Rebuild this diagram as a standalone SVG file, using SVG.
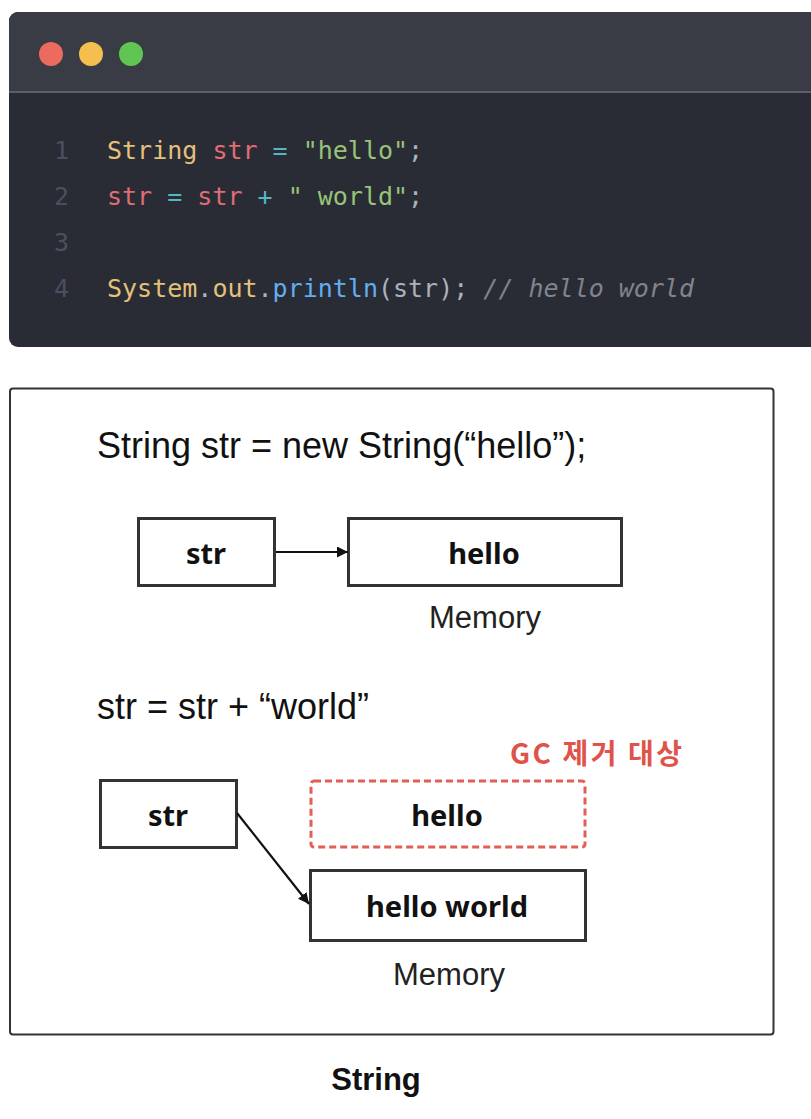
<svg xmlns="http://www.w3.org/2000/svg" width="811" height="1119" viewBox="0 0 811 1119">
<style>
.code{font-family:"DejaVu Sans Mono","Liberation Mono",monospace;font-size:25px}
.ln{fill:#4b5060}
.ty{fill:#e5c07b}
.vr{fill:#e06c75}
.op{fill:#56b6c2}
.st{fill:#98c379}
.pl{fill:#abb2bf}
.fn{fill:#61afef}
.cm{fill:#7f848e;font-style:italic}
.box{fill:#fff;stroke:#333;stroke-width:3}
.lbl{font-family:"Noto Sans","Liberation Sans",sans-serif;font-weight:bold;font-size:29px;fill:#111;text-anchor:middle}
.head{font-family:"Liberation Sans",Arial,sans-serif;font-size:36px;fill:#111}
.mem{font-family:"Liberation Sans",Arial,sans-serif;font-size:31px;fill:#222;text-anchor:middle}
.conn{stroke:#111;stroke-width:2.2;fill:none}
</style>
<defs>
<marker id="ah" viewBox="0 0 10 10" refX="10" refY="5" markerWidth="5" markerHeight="5" orient="auto" markerUnits="strokeWidth">
<path d="M0,0 L10,5 L0,10 z" fill="#111"/>
</marker>
</defs>
<rect width="811" height="1119" fill="#fff"/>
<g id="code-panel">
<rect x="9" y="12" width="830" height="335" rx="9" fill="#292c34"/>
<path d="M9,92 V21 a9,9 0 0 1 9,-9 H811 V92 z" fill="#393b45"/>
<rect x="9" y="91" width="802" height="2" fill="#5b5e68"/>
<circle cx="51" cy="54" r="12" fill="#ec6a5e"/>
<circle cx="91" cy="54" r="12" fill="#f4bf4f"/>
<circle cx="131" cy="54" r="12" fill="#61c554"/>
<text class="code ln" x="54" y="159">1</text>
<text class="code ln" x="54" y="205">2</text>
<text class="code ln" x="54" y="251">3</text>
<text class="code ln" x="54" y="297">4</text>
<text class="code" x="107" y="159" xml:space="preserve"><tspan class="ty">String</tspan> <tspan class="vr">str</tspan> <tspan class="op">=</tspan> <tspan class="st">"hello"</tspan><tspan class="pl">;</tspan></text>
<text class="code" x="107" y="205" xml:space="preserve"><tspan class="vr">str</tspan> <tspan class="op">=</tspan> <tspan class="vr">str</tspan> <tspan class="op">+</tspan> <tspan class="st">" world"</tspan><tspan class="pl">;</tspan></text>
<text class="code" x="107" y="297" xml:space="preserve"><tspan class="ty">System</tspan><tspan class="pl">.</tspan><tspan class="ty">out</tspan><tspan class="pl">.</tspan><tspan class="fn">println</tspan><tspan class="pl">(str);</tspan> <tspan class="cm">// hello world</tspan></text>
</g>
<g id="diagram-frame">
<rect x="10" y="388.5" width="763.5" height="646" rx="3" fill="#fff" stroke="#333" stroke-width="2"/>
<text class="head" x="97" y="458">String str = new String(“hello”);</text>
<text class="head" x="97" y="719">str = str + “world”</text>
</g>
<g id="node-str-1">
<rect class="box" x="138.5" y="518.5" width="136" height="67"/>
<text class="lbl" x="206" y="564">str</text>
</g>
<g id="node-hello-1">
<rect class="box" x="348.5" y="518.5" width="273" height="67"/>
<text class="lbl" x="484" y="564">hello</text>
<text class="mem" x="485" y="628">Memory</text>
</g>
<g id="node-str-2">
<rect class="box" x="100.5" y="780.5" width="136" height="67"/>
<text class="lbl" x="168" y="826">str</text>
</g>
<g id="node-hello-gc">
<text x="596" y="764" textLength="172" lengthAdjust="spacing" font-family="'Noto Sans CJK KR',sans-serif" font-weight="bold" font-size="28" fill="#e0534b" text-anchor="middle">GC 제거 대상</text>
<rect x="311" y="781" width="274" height="66" rx="3" fill="#fff" stroke="#e45e55" stroke-width="3" stroke-dasharray="7 4"/>
<text class="lbl" x="447" y="826">hello</text>
</g>
<g id="node-hello-world">
<rect class="box" x="310.5" y="870.5" width="275" height="70"/>
<text class="lbl" x="447" y="917">hello world</text>
<text class="mem" x="449" y="985">Memory</text>
</g>
<g id="connectors">
<line class="conn" x1="276" y1="552" x2="348" y2="552" marker-end="url(#ah)"/>
<line class="conn" x1="237" y1="813" x2="309" y2="904" marker-end="url(#ah)"/>
</g>
<text x="376" y="1090" font-family="'Liberation Sans',Arial,sans-serif" font-weight="bold" font-size="31" fill="#111" text-anchor="middle">String</text>
</svg>
